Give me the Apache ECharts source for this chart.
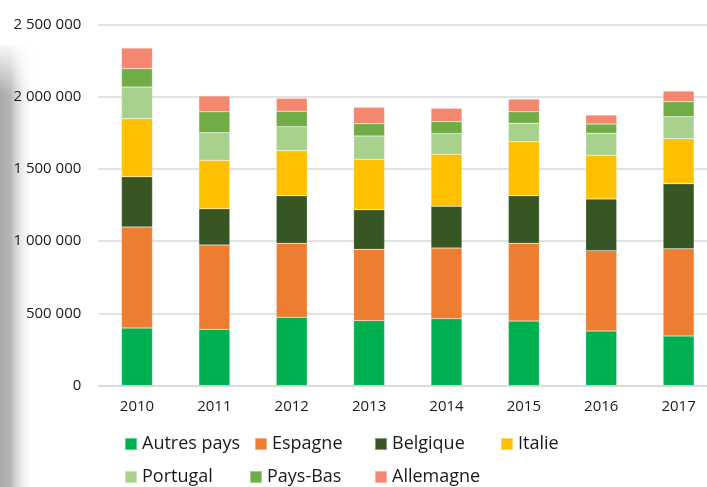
<!DOCTYPE html>
<html>
<head>
<meta charset="utf-8">
<script src="https://cdn.jsdelivr.net/npm/echarts@6/dist/echarts.min.js"></script>
<style>
  html, body { margin: 0; padding: 0; background: #fff; }
  #main { width: 707px; height: 487px; }
</style>
</head>
<body>
<div id="main"></div>
<script>
// années
const years = ['2010', '2011', '2012', '2013', '2014', '2015', '2016', '2017'];

// séries empilées (du bas vers le haut)
const autresPays = [398000, 389000, 472000, 449000, 463000, 447000, 377000, 343000];
const espagne    = [700000, 584000, 513000, 494000, 489000, 538000, 557000, 604000];
const belgique   = [348000, 251000, 329000, 274000, 289000, 329000, 358000, 450000];
const italie     = [402000, 336000, 312000, 349000, 360000, 374000, 302000, 312000];
const portugal   = [219000, 191000, 166000, 162000, 143000, 128000, 153000, 153000];
const paysBas    = [127000, 145000, 107000,  85000,  83000,  80000,  64000, 103000];
const allemagne  = [143000, 109000,  90000, 114000,  93000,  88000,  62000,  74000];

const seriesDefs = [
  { name: 'Autres pays', data: autresPays, color: '#00B050' },
  { name: 'Espagne', data: espagne, color: '#ED7D31' },
  { name: 'Belgique', data: belgique, color: '#375623' },
  { name: 'Italie', data: italie, color: '#FFC000' },
  { name: 'Portugal', data: portugal, color: '#A9D18E' },
  { name: 'Pays-Bas', data: paysBas, color: '#70AD47' },
  { name: 'Allemagne', data: allemagne, color: '#F4876F' },
];

// positions de la légende (2 lignes)
const legendPos = [
  [124, 432], [254, 432], [374, 432], [500, 432],
  [124, 465], [249, 465], [374, 465],
];

const font = '"Open Sans", "Noto Sans", sans-serif';

const chart = echarts.init(document.getElementById('main'), null, { renderer: 'canvas' });

const option = {
  backgroundColor: '#fff',
  animation: false,
  textStyle: { fontFamily: font },
  grid: { left: 98.3, top: 24.5, width: 619, height: 361, outerBoundsMode: 'none', containLabel: false },
  graphic: [
    {
      type: 'rect',
      left: 0, top: 45,
      shape: { width: 34, height: 442 },
      style: {
        fill: new echarts.graphic.LinearGradient(0, 0, 1, 0, [
          { offset: 0, color: '#a9a9a9' },
          { offset: 0.3, color: '#b5b5b5' },
          { offset: 1, color: 'rgba(255,255,255,0)' },
        ]),
      },
      silent: true,
      z: -2,
    },
    {
      type: 'rect',
      left: 0, top: 40,
      shape: { width: 40, height: 55 },
      style: {
        fill: new echarts.graphic.LinearGradient(0, 0, 0, 1, [
          { offset: 0, color: 'rgba(255,255,255,1)' },
          { offset: 1, color: 'rgba(255,255,255,0)' },
        ]),
      },
      silent: true,
      z: -1,
    },
  ],
  legend: seriesDefs.map((s, i) => ({
    data: [s.name],
    left: legendPos[i][0],
    top: legendPos[i][1],
    padding: 0,
    icon: 'rect',
    itemWidth: 12,
    itemHeight: 12,
    itemGap: 6,
    selectedMode: false,
    textStyle: { fontSize: 18, color: '#1a1a1a', fontFamily: font, lineHeight: 24 },
  })),
  xAxis: {
    type: 'category',
    data: years,
    axisLine: { lineStyle: { color: '#d9d9d9', width: 1.5 } },
    axisTick: { show: false },
    axisLabel: { color: '#1a1a1a', fontSize: 15, margin: 14, fontFamily: font },
  },
  yAxis: {
    type: 'value',
    min: 0,
    max: 2500000,
    interval: 500000,
    axisLine: { show: false },
    axisTick: { show: false },
    splitLine: { lineStyle: { color: '#d9d9d9', width: 1.5 } },
    axisLabel: {
      color: '#1a1a1a',
      fontSize: 15,
      margin: 17,
      fontFamily: font,
      formatter: v => String(v).replace(/\B(?=(\d{3})+(?!\d))/g, ' '),
    },
  },
  series: seriesDefs.map(s => ({
    name: s.name,
    type: 'bar',
    stack: 'total',
    barWidth: 31,
    data: s.data,
    itemStyle: { color: s.color, borderColor: 'rgba(255,255,255,0.4)', borderWidth: 0.5 },
  })),
};

chart.setOption(option);
</script>
</body>
</html>
